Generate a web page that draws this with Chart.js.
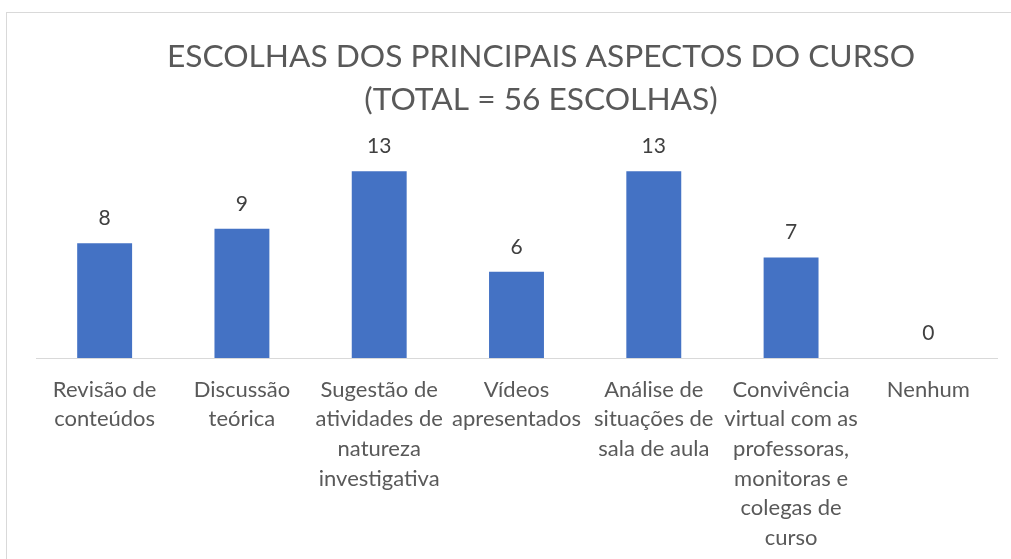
<!DOCTYPE html>
<html>
<head>
<meta charset="utf-8">
<script src="https://cdn.jsdelivr.net/npm/chart.js@4"></script>
<style>
  html, body { margin: 0; padding: 0; background: #ffffff; overflow: hidden; }
  #frame { position: absolute; left: 6px; top: 12px; width: 1100px; height: 700px; border: 1px solid #d9d9d9; box-sizing: border-box; }
  #c { position: absolute; left: 0; top: 0; }
</style>
</head>
<body>
<div id="frame"></div>
<canvas id="c" width="1011" height="559"></canvas>
<script>
const titleLines = ["ESCOLHAS DOS PRINCIPAIS ASPECTOS DO CURSO", "(TOTAL = 56 ESCOLHAS)"];
const categories = [
  ["Revisão de", "conteúdos"],
  ["Discussão", "teórica"],
  ["Sugestão de", "atividades de", "natureza", "investigativa"],
  ["Vídeos", "apresentados"],
  ["Análise de", "situações de", "sala de aula"],
  ["Convivência", "virtual com as", "professoras,", "monitoras e", "colegas de", "curso"],
  ["Nenhum"]
];
const values = [8, 9, 13, 6, 13, 7, 0];

const FONT = "Lato, 'Open Sans', sans-serif";

const titleDraw = {
  id: 'titleDraw',
  afterDraw(chart) {
    const ctx = chart.ctx;
    ctx.save();
    ctx.fillStyle = '#595959';
    ctx.font = "31.7px " + FONT;
    ctx.textAlign = 'center';
    ctx.textBaseline = 'middle';
    ctx.fillText(titleLines[0], 541, 57);
    ctx.fillText(titleLines[1], 541, 100);
    ctx.restore();
  }
};

const valueLabels = {
  id: 'valueLabels',
  afterDatasetsDraw(chart) {
    const ctx = chart.ctx;
    const meta = chart.getDatasetMeta(0);
    ctx.save();
    ctx.fillStyle = '#404040';
    ctx.font = "21px " + FONT;
    ctx.textAlign = 'center';
    ctx.textBaseline = 'middle';
    meta.data.forEach((bar, i) => {
      ctx.fillText(String(values[i]), bar.x, bar.y - 25);
    });
    ctx.restore();
  }
};

new Chart(document.getElementById('c'), {
  type: 'bar',
  data: {
    labels: categories,
    datasets: [{
      data: values,
      backgroundColor: '#4472C4',
      borderWidth: 0,
      categoryPercentage: 1.0,
      barPercentage: 0.4
    }]
  },
  options: {
    responsive: false,
    animation: false,
    devicePixelRatio: 1,
    layout: { padding: { left: 36, right: 14, top: 157, bottom: 0 } },
    plugins: {
      legend: { display: false },
      tooltip: { enabled: false },
      title: { display: false }
    },
    scales: {
      x: {
        grid: { display: false, drawTicks: false },
        border: { display: true, color: '#d9d9d9', width: 1 },
        ticks: {
          autoSkip: false,
          maxRotation: 0,
          minRotation: 0,
          padding: 17,
          color: '#595959',
          font: { family: FONT, size: 22, lineHeight: 1.345 }
        },
        afterFit(scale) { scale.height = 201; }
      },
      y: {
        display: false,
        min: 0,
        max: 14
      }
    }
  },
  plugins: [valueLabels, titleDraw]
});
</script>
</body>
</html>
